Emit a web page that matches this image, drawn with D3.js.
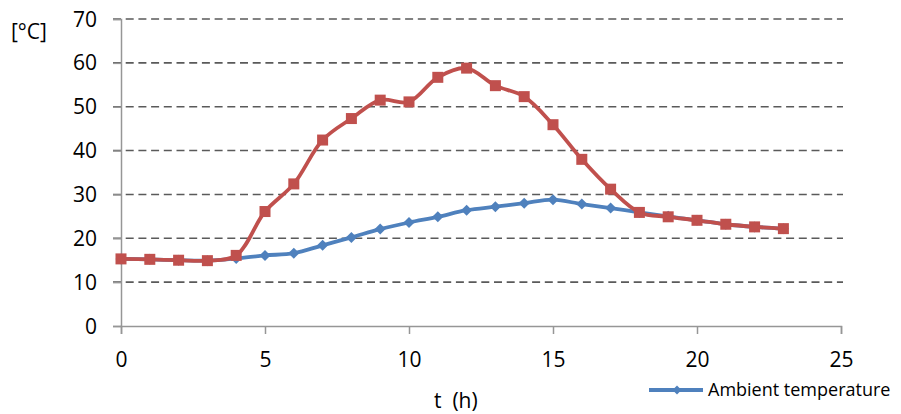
<!DOCTYPE html>
<html><head><meta charset="utf-8">
<script src="https://cdn.jsdelivr.net/npm/d3@7/dist/d3.min.js"></script>
<style>body{margin:0;background:#fff}text{font-family:"Open Sans",sans-serif}</style>
</head><body><svg id="c" width="901" height="414"></svg>
<script>
const hours = [0,1,2,3,4,5,6,7,8,9,10,11,12,13,14,15,16,17,18,19,20,21,22,23];
const ambient = [15.3,15.2,15.0,14.9,15.4,16.1,16.6,18.4,20.2,22.1,23.6,24.9,26.4,27.2,28.0,28.8,27.8,26.9,25.9,25.0,24.1,23.2,22.6,22.2];
const panel = [15.3,15.2,15.0,14.9,16.1,26.1,32.4,42.4,47.3,51.5,51.1,56.7,58.8,54.8,52.3,45.9,38.0,31.2,25.9,24.9,24.1,23.2,22.6,22.2];
const xTicks = [0,5,10,15,20,25];
const yTicks = [0,10,20,30,40,50,60,70];
const legendLabel = "Ambient temperature";

const svg = d3.select("#c");
const x = d3.scaleLinear().domain([0,25]).range([121,841]);
const y = d3.scaleLinear().domain([0,70]).range([326,19]);
const FF = "'Open Sans',sans-serif";

// gridlines
svg.append("g").selectAll("line").data(yTicks.filter(d=>d>0)).join("line")
  .attr("x1",113).attr("x2",843).attr("y1",d=>y(d)).attr("y2",d=>y(d))
  .attr("stroke","#5a5a5a").attr("stroke-width",1.6).attr("stroke-dasharray","8,4.7");

// y axis
const ya = svg.append("g").attr("transform","translate(121,0)")
  .call(d3.axisLeft(y).tickValues(yTicks).tickSize(8).tickPadding(24));
ya.select(".domain").attr("stroke","#969696").attr("stroke-width",1.5);
ya.selectAll(".tick line").attr("stroke","#969696").attr("stroke-width",1.5);
ya.selectAll("text").attr("font-size",21).attr("fill","#000").attr("font-family",FF)
  .attr("x",-24).attr("dy","0.34em");

// x axis
const xa = svg.append("g").attr("transform","translate(0,326)")
  .call(d3.axisBottom(x).tickValues(xTicks).tickSize(8));
xa.select(".domain").attr("stroke","#969696").attr("stroke-width",1.5);
xa.selectAll(".tick line").attr("stroke","#969696").attr("stroke-width",1.5);
xa.selectAll("text").attr("font-size",21).attr("fill","#000").attr("font-family",FF)
  .attr("y",41).attr("dy",0);

const line = d3.line().x((d,i)=>x(hours[i])).y(d=>y(d)).curve(d3.curveCatmullRom.alpha(0.5));

// ambient
svg.append("path").datum(ambient).attr("d",line).attr("fill","none")
  .attr("stroke","#4F81BD").attr("stroke-width",3.8);
svg.append("g").selectAll("path").data(ambient).join("path")
  .attr("transform",(d,i)=>`translate(${x(hours[i])},${y(d)})`)
  .attr("d","M0,-5.5L5.5,0L0,5.5L-5.5,0Z").attr("fill","#4F81BD");

// panel
svg.append("path").datum(panel).attr("d",line).attr("fill","none")
  .attr("stroke","#C0504D").attr("stroke-width",3.8);
svg.append("g").selectAll("rect").data(panel).join("rect")
  .attr("x",(d,i)=>x(hours[i])-5.5).attr("y",d=>y(d)-5.5).attr("width",11).attr("height",11)
  .attr("fill","#C0504D");

// labels
svg.append("text").attr("x",11).attr("y",39).attr("font-size",21).text("[°C]");
svg.append("text").attr("x",434).attr("y",408).attr("font-size",21)
  .style("white-space","pre").text("t  (h)");

// legend
svg.append("line").attr("x1",649).attr("x2",703).attr("y1",390).attr("y2",390)
  .attr("stroke","#4F81BD").attr("stroke-width",3.8);
svg.append("path").attr("transform","translate(677,390)").attr("d","M0,-4.5L4.5,0L0,4.5L-4.5,0Z").attr("fill","#4F81BD");
svg.append("text").attr("x",708).attr("y",396).attr("font-size",18).text(legendLabel);
</script></body></html>
